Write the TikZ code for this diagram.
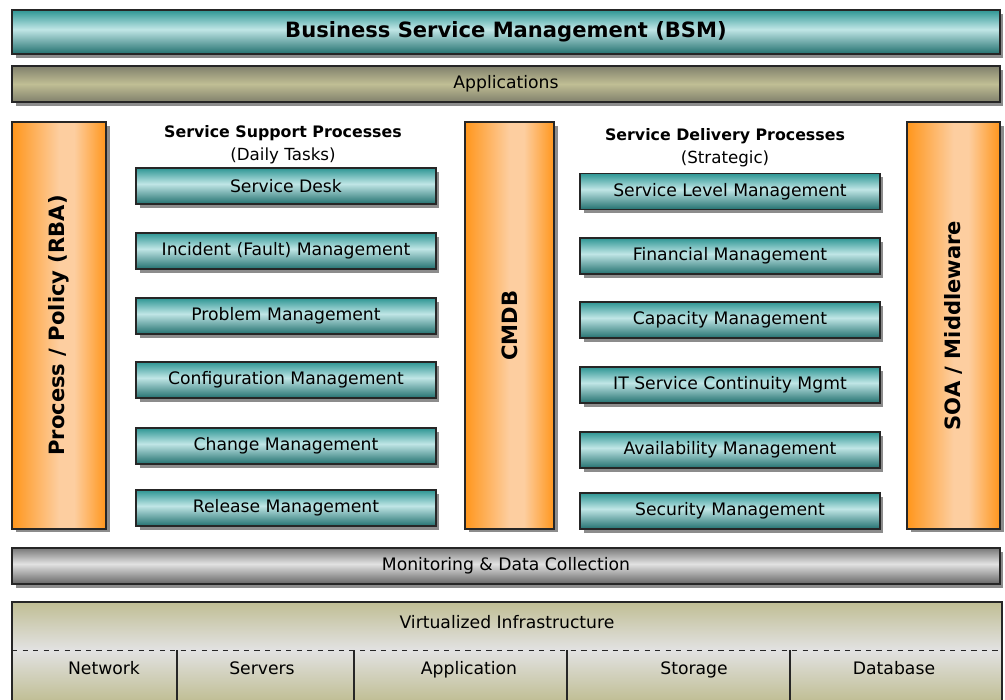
\documentclass[tikz,border=0pt]{standalone}
\usepackage{fontspec}
\setmainfont{DejaVu Sans}
\usepackage{tikz}
\usetikzlibrary{shadows}
\definecolor{tealdark}{RGB}{46,150,148}
\definecolor{teallight}{RGB}{192,230,230}
\definecolor{orng}{RGB}{255,150,28}
\definecolor{ornglight}{RGB}{253,206,160}
\definecolor{graydark}{RGB}{120,120,120}
\definecolor{graylight}{RGB}{226,226,226}
\definecolor{olive}{RGB}{192,190,148}
\definecolor{olivedark}{RGB}{128,128,108}
\pgfdeclareverticalshading{tealsh}{100bp}{color(0bp)=(tealdark!75!black); color(25bp)=(tealdark!75!black);
	color(53bp)=(teallight); color(75bp)=(tealdark); color(100bp)=(tealdark)}
\pgfdeclareverticalshading{graysh}{100bp}{color(0bp)=(graydark!85!black); color(25bp)=(graydark!85!black);
	color(53bp)=(graylight); color(75bp)=(graydark); color(100bp)=(graydark)}
\pgfdeclareverticalshading{olivesh}{100bp}{color(0bp)=(olivedark); color(25bp)=(olivedark);
	color(50bp)=(olive); color(75bp)=(olivedark); color(100bp)=(olivedark)}
\pgfdeclarehorizontalshading{orngsh}{100bp}{color(0bp)=(orng); color(25bp)=(orng);
	color(50bp)=(ornglight); color(58bp)=(ornglight); color(75bp)=(orng); color(100bp)=(orng)}
\tikzset{
	boxed/.style={draw=black!85, line width=0.8pt,
		drop shadow={shadow xshift=2pt,shadow yshift=-2pt,opacity=.45,fill=black}},
	txt/.style={font=\fontsize{9.8}{13}\selectfont},
	barbox/.style={boxed, txt, minimum width=19.76cm, minimum height=0.72cm},
	bsmbox/.style={barbox, minimum height=0.88cm, shading=tealsh,
		font=\fontsize{12}{14}\selectfont\bfseries},
	appbox/.style={barbox, shading=olivesh},
	monbox/.style={barbox, shading=graysh},
	procbox/.style={boxed, txt, minimum width=6cm, minimum height=0.72cm, shading=tealsh},
	sidebar/.style={boxed, minimum height=8.14cm, shading=orngsh},
	sidetext/.style={rotate=90, font=\fontsize{12}{14}\selectfont\bfseries},
	headtxt/.style={anchor=north, align=center, font=\fontsize{9.5}{13}\selectfont},
	celltxt/.style={txt, anchor=base}
}

\begin{document}
\begin{tikzpicture}[x=0.02cm,y=-0.02cm]
	\useasboundingbox (0,0) rectangle (1005,700);
	\clip (0,0) rectangle (1005,700);
	% top layers
	\node[bsmbox] (bsm) at (506,32) {Business Service Management (BSM)};
	\node[appbox] (apps) at (506,84) {Applications};
	% side columns
	\node[sidebar, minimum width=1.88cm] (rba) at (59,325.5) {};
	\node[sidetext] (rbatext) at (rba) {Process / Policy (RBA)};
	\node[sidebar, minimum width=1.78cm] (cmdb) at (509.5,325.5) {};
	\node[sidetext] (cmdbtext) at (cmdb) {CMDB};
	\node[sidebar, minimum width=1.86cm] (soa) at (953.5,325.5) {};
	\node[sidetext] (soatext) at (soa) {SOA / Middleware};
	% service support
	\node[headtxt] (suphead) at (283,119) {\textbf{\fontsize{9}{13}\selectfont Service Support Processes}\\(Daily Tasks)};
	\foreach \y/\t [count=\i] in {186/Service Desk, 251/Incident (Fault) Management,
		316/Problem Management, 380/Configuration Management,
		446/Change Management, 508/Release Management}
		\node[procbox] (sup\i) at (286,\y) {\t};
	% service delivery
	\node[headtxt] (delhead) at (725,122) {\textbf{\fontsize{9}{13}\selectfont Service Delivery Processes}\\(Strategic)};
	\foreach \y/\t [count=\i] in {191.5/Service Level Management, 256/Financial Management,
		320/Capacity Management, 385/IT Service Continuity Mgmt,
		450/Availability Management, 511/Security Management}
		\node[procbox] (del\i) at (730,\y) {\t};
	% bottom layers
	\node[monbox] (mon) at (506,566) {Monitoring \& Data Collection};
	\fill[top color=olive, bottom color=graylight] (12,602) rectangle (1002,650);
	\fill[top color=graylight, bottom color=olive] (12,650) rectangle (1002,701);
	\draw[dashed, black!85] (12,650) -- (1002,650);
	\foreach \x in {177,354,567,790}
		\draw[black!85, line width=0.8pt] (\x,650) -- (\x,720);
	\draw[black!85, line width=0.8pt] (12,720) -- (12,602) -- (1002,602) -- (1002,720);
	\node[txt] (virt) at (507,622) {Virtualized Infrastructure};
	\foreach \x/\t [count=\i] in {104/Network, 262/Servers, 469/Application, 694/Storage, 894/Database}
		\node[celltxt] (cell\i) at (\x,674) {\t};
\end{tikzpicture}
\end{document}
